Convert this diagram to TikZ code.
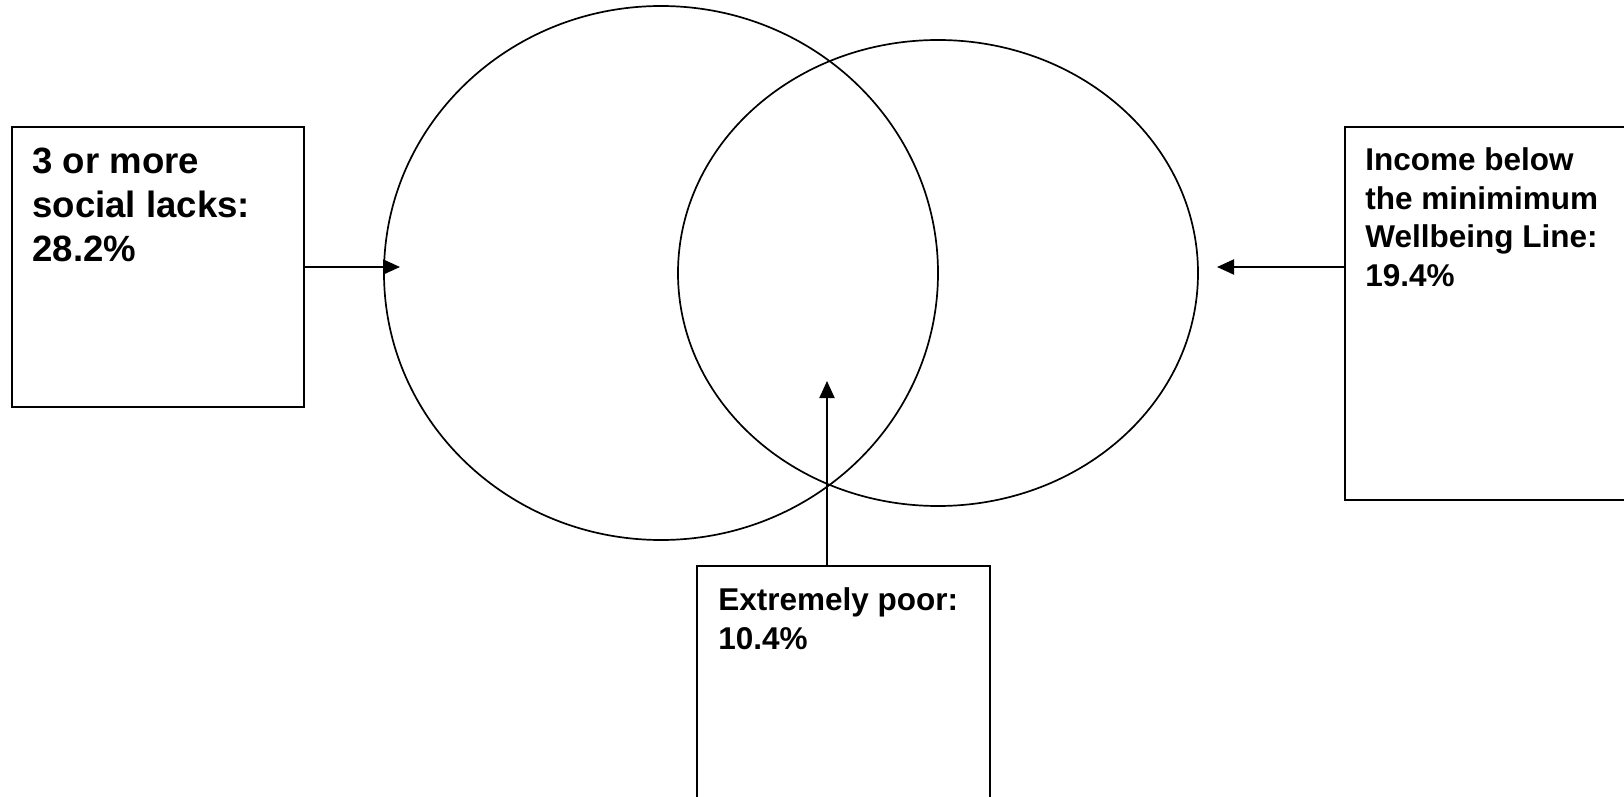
\documentclass[tikz,border=0pt]{standalone}
\usepackage{fontspec}
\setmainfont{Liberation Sans}
\usetikzlibrary{shapes,arrows,positioning,calc,arrows.meta}

\begin{document}
\begin{tikzpicture}[
        x=0.5pt, y=-0.5pt,
        panel/.style={rectangle, draw=black, line width=0.85pt, inner sep=0pt, outer sep=0pt, anchor=north west},
        ring/.style={ellipse, draw=black, line width=0.85pt, inner sep=0pt, outer sep=0pt},
        bigtext/.style={font=\fontsize{18.3}{22}\selectfont\bfseries, align=left, inner sep=0pt, anchor=north west},
        smalltext/.style={font=\fontsize{15.75}{19.4}\selectfont\bfseries, align=left, inner sep=0pt, anchor=north west},
        arrow/.style={-{Triangle[length=8.5pt, width=7.5pt]}, line width=1pt},
      ]
      \useasboundingbox (0,0) rectangle (1624,797);
      \node [ring, minimum width=277pt, minimum height=267pt] (social) at (661,273) {};
      \node [ring, minimum width=260pt, minimum height=233pt] (wellbeing) at (938,273) {};
      \node [panel, minimum width=146pt, minimum height=140pt] (lacks) at (12,127) {};
      \node [panel, minimum width=147.5pt, minimum height=186.5pt] (income) at (1345,127) {};
      \node [panel, minimum width=146.5pt, minimum height=122pt] (poor) at (697,566) {};
      \node [bigtext] (lackstext) at ($(lacks.north west)+(20,21)$) {3 or more\\social lacks:\\28.2\%};
      \node [smalltext] (incometext) at ($(income.north west)+(20,20)$) {Income below\\the minimimum\\Wellbeing Line:\\19.4\%};
      \node [smalltext] (poortext) at ($(poor.north west)+(21,21)$) {Extremely poor:\\10.4\%};
      \coordinate (socialtip) at (400,267);
      \coordinate (incometip) at (1217,267);
      \coordinate (poortip) at (827,381);
      \draw [arrow] (lacks.east) -- (socialtip);
      \draw [arrow] (income.west |- incometip) -- (incometip);
      \draw [arrow] (poortip |- poor.north) -- (poortip);
    \end{tikzpicture}
\end{document}
